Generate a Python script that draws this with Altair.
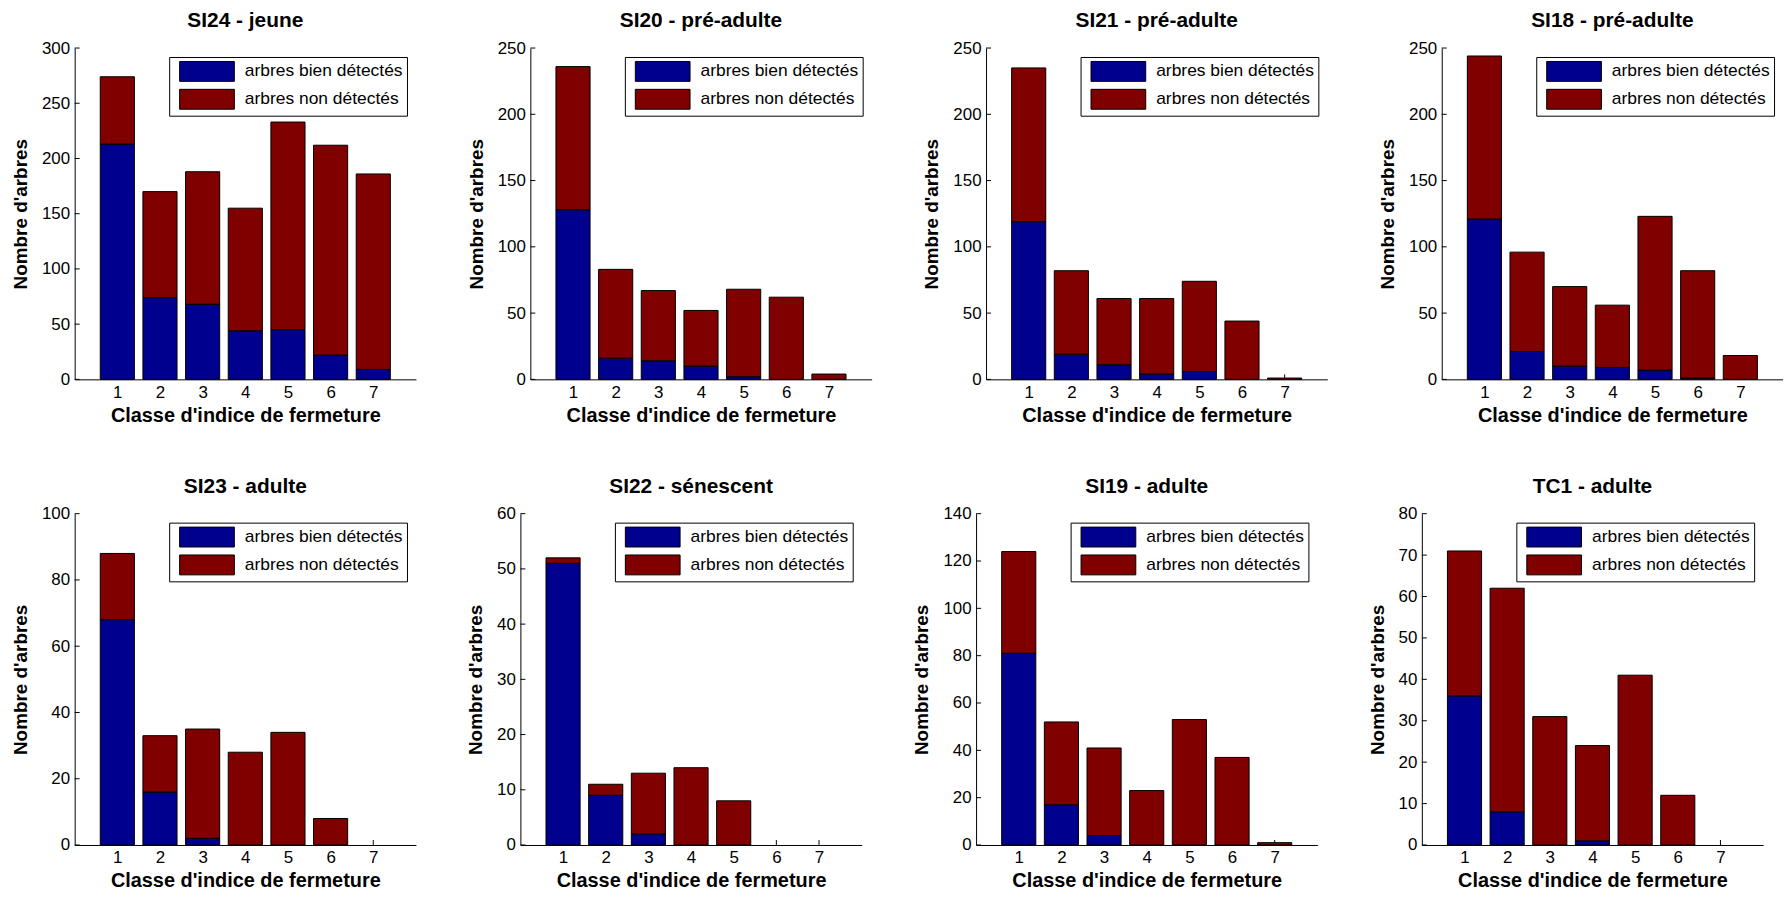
import altair as alt
import pandas as pd

classes = [1, 2, 3, 4, 5, 6, 7]
series = ["arbres bien détectés", "arbres non détectés"]
colors = ["#00008F", "#800000"]

titles = ["SI24 - jeune", "SI20 - pré-adulte", "SI21 - pré-adulte", "SI18 - pré-adulte",
          "SI23 - adulte", "SI22 - sénescent", "SI19 - adulte", "TC1 - adulte"]

bien_SI24 = [213, 74, 68, 44, 45, 22, 9]
non_SI24 = [61, 96, 120, 111, 188, 190, 177]
bien_SI20 = [128, 16, 14, 10, 2, 0, 0]
non_SI20 = [108, 67, 53, 42, 66, 62, 4]
bien_SI21 = [119, 19, 11, 4, 6, 0, 0]
non_SI21 = [116, 63, 50, 57, 68, 44, 1]
bien_SI18 = [121, 21, 10, 9, 7, 1, 0]
non_SI18 = [123, 75, 60, 47, 116, 81, 18]
bien_SI23 = [68, 16, 2, 0, 0, 0, 0]
non_SI23 = [20, 17, 33, 28, 34, 8, 0]
bien_SI22 = [51, 9, 2, 0, 0, 0, 0]
non_SI22 = [1, 2, 11, 14, 8, 0, 0]
bien_SI19 = [81, 17, 4, 0, 0, 0, 0]
non_SI19 = [43, 35, 37, 23, 53, 37, 1]
bien_TC1 = [36, 8, 0, 1, 0, 0, 0]
non_TC1 = [35, 54, 31, 23, 41, 12, 0]

bien_all = [bien_SI24, bien_SI20, bien_SI21, bien_SI18, bien_SI23, bien_SI22, bien_SI19, bien_TC1]
non_all = [non_SI24, non_SI20, non_SI21, non_SI18, non_SI23, non_SI22, non_SI19, non_TC1]

yticks_all = [
    [0, 50, 100, 150, 200, 250, 300],
    [0, 50, 100, 150, 200, 250],
    [0, 50, 100, 150, 200, 250],
    [0, 50, 100, 150, 200, 250],
    [0, 20, 40, 60, 80, 100],
    [0, 10, 20, 30, 40, 50, 60],
    [0, 20, 40, 60, 80, 100, 120, 140],
    [0, 10, 20, 30, 40, 50, 60, 70, 80],
]

W, H = 343, 333
FONT = "Liberation Sans"


def panel(i):
    rows = []
    for c, b, n in zip(classes, bien_all[i], non_all[i]):
        rows.append({"classe": c, "serie": series[0], "n": b, "ordre": 0})
        rows.append({"classe": c, "serie": series[1], "n": n, "ordre": 1})
    df = pd.DataFrame(rows)
    yticks = yticks_all[i]
    ymax = yticks[-1]
    xs = alt.Scale(domain=[0, 8], nice=False, zero=False)
    ys = alt.Scale(domain=[0, ymax], nice=False)
    xaxis = alt.Axis(values=classes, title="Classe d'indice de fermeture",
                     ticks=False, grid=False, format="d",
                     labelFontSize=17, labelPadding=5,
                     titleFontSize=20, titlePadding=5)
    yaxis = alt.Axis(values=yticks, title="Nombre d'arbres",
                     ticks=False, grid=False, format="d",
                     labelFontSize=17, labelPadding=5,
                     titleFontSize=19, titlePadding=11)

    ytick_layer = alt.Chart(pd.DataFrame({"v": yticks})).mark_rule(
        color="black", strokeWidth=1
    ).encode(
        y=alt.Y("v:Q", scale=ys, axis=yaxis),
        x=alt.value(0), x2=alt.value(5),
    )
    xtick_layer = alt.Chart(pd.DataFrame({"c": classes})).mark_rule(
        color="black", strokeWidth=1
    ).encode(
        x=alt.X("c:Q", scale=xs, axis=xaxis),
        y=alt.value(H), y2=alt.value(H - 5),
    )

    bars = alt.Chart(df).transform_filter(
        "datum.n > 0"
    ).transform_stack(
        stack="n", as_=["y0", "y1"], groupby=["classe"], sort=[alt.SortField("ordre")]
    ).transform_calculate(
        xa="datum.classe - 0.4", xb="datum.classe + 0.4"
    ).mark_bar(stroke="black", strokeWidth=1, opacity=1).encode(
        x=alt.X("xa:Q", scale=xs, axis=xaxis),
        x2="xb:Q",
        y=alt.Y("y0:Q", scale=ys, axis=yaxis),
        y2="y1:Q",
        color=alt.Color("serie:N", scale=alt.Scale(domain=series, range=colors),
                        legend=alt.Legend(
                            title=None, orient="top-right", offset=9,
                            strokeColor="black", fillColor="white", padding=4,
                            symbolType="M-1,-1L4.5,-1L4.5,1L-1,1Z", symbolSize=400,
                            symbolStrokeColor="black", symbolStrokeWidth=1,
                            symbolOpacity=1, symbolOffset=6, labelOffset=45,
                            labelFontSize=17.5, labelFont=FONT, labelColor="black",
                            rowPadding=3, labelLimit=400)),
    )

    return alt.layer(xtick_layer, ytick_layer, bars).properties(
        width=W, height=H,
        title=alt.TitleParams(titles[i], anchor="middle", frame="group")
    )


row1 = alt.hconcat(*[panel(i) for i in range(4)], spacing=51).resolve_scale(color="independent")
row2 = alt.hconcat(*[panel(i) for i in range(4, 8)], spacing=51).resolve_scale(color="independent")

chart = alt.vconcat(row1, row2, spacing=51).resolve_scale(color="independent").properties(
    padding={"left": 3, "top": 0, "right": 0, "bottom": 0}
).configure_view(stroke=None).configure_axis(
    labelFont=FONT, titleFont=FONT, labelColor="black", titleColor="black",
    domainColor="black", domainWidth=1, titleFontWeight="bold", labelFontWeight="normal",
).configure_title(
    font=FONT, fontSize=21, fontWeight="bold", color="black", offset=8
)

chart.save("out.html", embed_options={"renderer": "svg", "actions": False})
